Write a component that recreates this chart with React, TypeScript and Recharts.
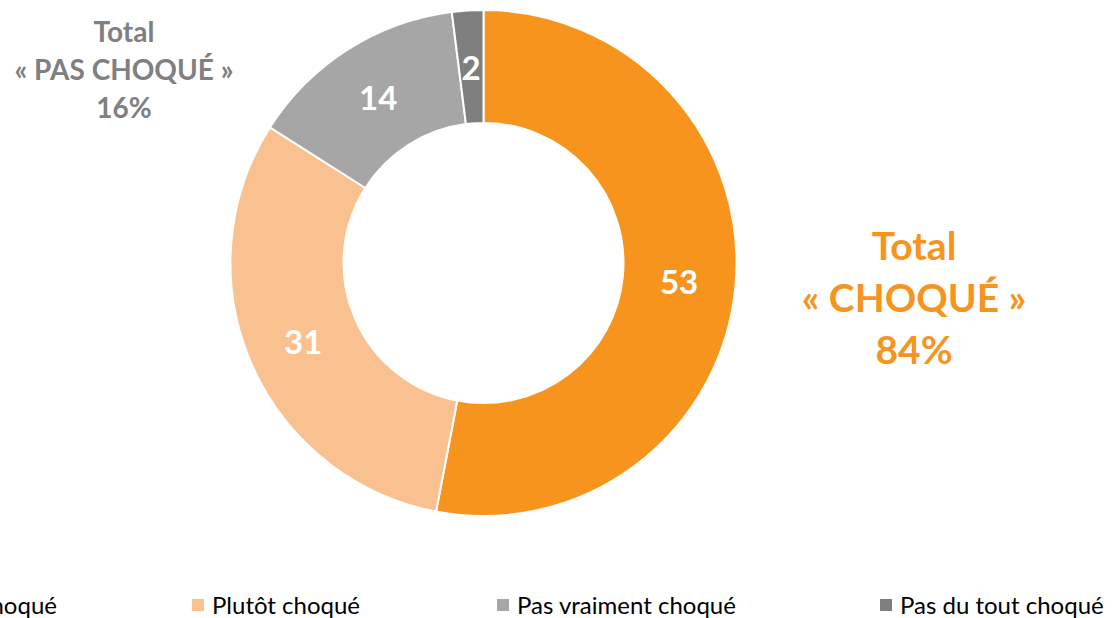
import { PieChart, Pie, Cell } from "recharts";

const categories = ["Très choqué", "Plutôt choqué", "Pas vraiment choqué", "Pas du tout choqué"];
const values = [53, 31, 14, 2];
const colors = ["#F7941D", "#F9C190", "#A6A6A6", "#7F7F7F"];

const totalChoque = ["Total", "« CHOQUÉ »", "84%"];
const totalPasChoque = ["Total", "« PAS CHOQUÉ »", "16%"];

const data = categories.map((name, i) => ({ name, value: values[i] }));

const FONT = "Lato, 'Open Sans', sans-serif";
const RAD = Math.PI / 180;

function SliceLabel(props: any) {
  const { cx, cy, midAngle, innerRadius, outerRadius, value } = props;
  const r = (innerRadius + outerRadius) / 2;
  const x = cx + r * Math.cos(-midAngle * RAD);
  const y = cy + r * Math.sin(-midAngle * RAD);
  return (
    <text
      x={x}
      y={y}
      fill="#fff"
      textAnchor="middle"
      dominantBaseline="central"
      fontFamily={FONT}
      fontWeight={700}
      fontSize={33}
    >
      {value}
    </text>
  );
}

// first legend item is partly off the left edge in the original
const legendLeft = [-90, 192, 497, 880];

export default function App() {
  return (
    <div
      style={{
        position: "absolute",
        left: 0,
        top: 0,
        width: 1113,
        height: 618,
        overflow: "hidden",
        background: "#fff",
        fontFamily: FONT,
      }}
    >
      <PieChart width={1113} height={618} margin={{ top: 0, right: 0, bottom: 0, left: 0 }}>
        <Pie
          data={data}
          dataKey="value"
          cx={483.5}
          cy={263}
          innerRadius={140}
          outerRadius={253}
          startAngle={90}
          endAngle={-270}
          stroke="#fff"
          strokeWidth={2}
          label={SliceLabel}
          labelLine={false}
          isAnimationActive={false}
        >
          {data.map((d, i) => (
            <Cell key={d.name} fill={colors[i]} />
          ))}
        </Pie>
      </PieChart>

      <div
        style={{
          position: "absolute",
          left: 764,
          top: 219,
          width: 300,
          textAlign: "center",
          color: "#F7941D",
          fontWeight: 700,
          fontSize: 39,
          lineHeight: "52px",
        }}
      >
        {totalChoque.map((t) => (
          <div key={t}>{t}</div>
        ))}
      </div>

      <div
        style={{
          position: "absolute",
          left: -6,
          top: 12,
          width: 260,
          textAlign: "center",
          color: "#808080",
          fontWeight: 700,
          fontSize: 28,
          lineHeight: "38px",
        }}
      >
        {totalPasChoque.map((t) => (
          <div key={t}>{t}</div>
        ))}
      </div>

      {categories.map((c, i) => (
        <div
          key={c}
          style={{
            position: "absolute",
            left: legendLeft[i],
            top: 590,
            display: "flex",
            alignItems: "center",
            whiteSpace: "nowrap",
            fontSize: 24,
            color: "#000",
          }}
        >
          <span
            style={{
              display: "inline-block",
              width: 12,
              height: 12,
              background: colors[i],
              marginRight: 8,
            }}
          />
          {c}
        </div>
      ))}
    </div>
  );
}
